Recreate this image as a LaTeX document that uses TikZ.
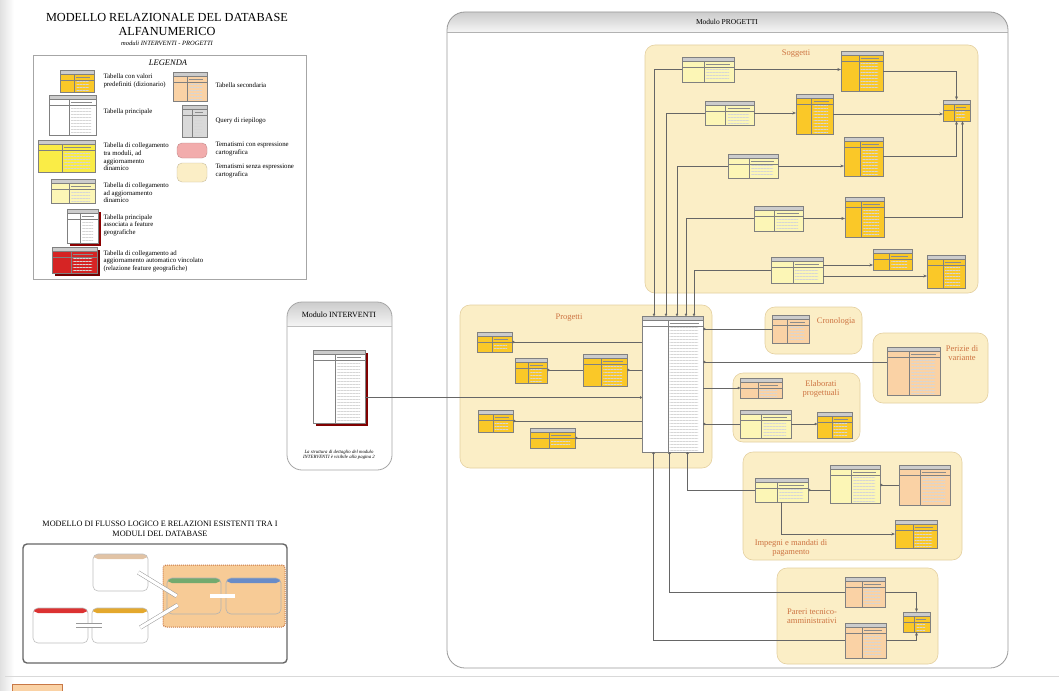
\documentclass[tikz,border=0pt]{standalone}
\usepackage{fontspec}
\setmainfont{Liberation Serif}
\usetikzlibrary{arrows.meta,calc,fit,patterns.meta}
\definecolor{beige}{RGB}{251,238,198}
\definecolor{beigebordo}{RGB}{228,208,160}
\definecolor{oro}{RGB}{250,200,40}
\definecolor{gialloch}{RGB}{252,246,182}
\definecolor{giallo}{RGB}{250,236,70}
\definecolor{salmone}{RGB}{250,210,165}
\definecolor{rosso}{RGB}{214,36,36}
\definecolor{rosa}{RGB}{242,172,172}
\definecolor{etich}{RGB}{205,115,65}
\definecolor{fltan}{RGB}{225,195,165}
\definecolor{flrosso}{RGB}{220,50,50}
\definecolor{flarancio}{RGB}{228,168,45}
\definecolor{flverde}{RGB}{115,170,110}
\definecolor{flblu}{RGB}{105,140,200}
\definecolor{grfill}{RGB}{247,203,150}
\definecolor{grbordo}{RGB}{200,120,70}
\tikzset{>={Stealth[length=3.5pt,width=3pt]}}
\tikzset{
  dbtab/.style={draw=black!50, line width=0.35pt, fill=#1, inner sep=0pt,
    path picture={
      \coordinate (tl) at (path picture bounding box.north west);
      \coordinate (br) at (path picture bounding box.south east);
      \coordinate (cd) at ($(tl)!0.42!(br|-tl)$);
      \fill[black!20] (tl) rectangle ($(br|-tl)+(0,-4pt)$);
      \draw[black!50, line width=0.25pt] ($(tl)+(0,-4pt)$) -- ($(br|-tl)+(0,-4pt)$);
      \draw[black!50, line width=0.25pt] ($(tl)+(0,-10pt)$) -- ($(br|-tl)+(0,-10pt)$);
      \draw[black!50, line width=0.25pt] ($(cd)+(0,-4pt)$) -- (cd|-br);
      \draw[black!45, line width=0.6pt] ($(cd)+(2pt,-7pt)$) -- ($(br|-tl)+(-4pt,-7pt)$);
      \fill[pattern={Lines[distance=3pt,line width=0.25pt]}, pattern color=black!16]
        ($(cd)+(2pt,-11.5pt)$) rectangle ($(br)+(-5pt,1.5pt)$);
    }},
  zona/.style={draw=beigebordo, fill=beige, line width=0.6pt, rounded corners=10pt, inner sep=0pt},
  zonalab/.style={text=etich, font=\fontsize{8.5}{9.5}\selectfont, align=center},
  tank/.style={fill=#1, draw=#1!80!black, line width=0.4pt, rounded corners=5pt, inner sep=0pt},
  leg/.style={anchor=west, align=left, font=\fontsize{6.8}{7.6}\selectfont},
  link/.style={draw=black!60, line width=0.45pt},
  pallino/.style={-{Circle[length=2.4pt]}},
  flowbox/.style={draw=black!25, line width=0.6pt, rounded corners=5pt, inner sep=0pt,
    path picture={\fill[#1] (path picture bounding box.north west) rectangle ($(path picture bounding box.north east)+(0,-5pt)$);}},
  flusso/.style={draw=black!40, double=white, double distance=3.2pt, line width=0.5pt}
}

\begin{document}
\begin{tikzpicture}[x=1pt,y=-1pt]
\useasboundingbox (0,0) rectangle (1059,690);
\fill[white] (0,0) rectangle (1059,690);
\shade[left color=black!12, right color=white] (0,0) rectangle (14,690);

\node[font=\fontsize{12.3}{14}\selectfont] (titolo) at (167,17) {MODELLO RELAZIONALE DEL DATABASE};
\node[font=\fontsize{12.3}{14}\selectfont] (titolo2) at (167,31) {ALFANUMERICO};
\node[font=\fontsize{6.5}{7}\selectfont\itshape] (sottotit) at (167,43) {moduli INTERVENTI - PROGETTI};

\node[draw=black!35, line width=0.5pt, inner sep=0pt, fit={(33,55) (306,279)}] (legenda) {};
\node[font=\fontsize{8.5}{9}\selectfont\itshape] at (168,63) {LEGENDA};
\node[dbtab=oro, fit={(60,70) (94,92)}] (lg1) {};
\node[dbtab=white, fit={(49,95) (96,135)}] (lg2) {};
\node[dbtab=giallo, fit={(38,140) (95,172)}] (lg3) {};
\node[dbtab=gialloch, fit={(51,179) (95,203)}] (lg4) {};
\fill[red!55!black] (70,212) rectangle (101,246);
\node[dbtab=white, fit={(67,209) (98,243)}] (lg5) {};
\fill[red!45!black] (55,250) rectangle (100,276);
\node[dbtab=rosso, fit={(52,247) (97,273)}] (lg6) {};
\node[dbtab=salmone, fit={(173,72) (207,101)}] (lg7) {};
\node[dbtab=black!15, fit={(182,105) (207,137)}] (lg8) {};
\node[tank=rosa, fit={(177,143) (207,158)}] (lg9) {};
\node[tank=beige, fit={(177,163) (207,182)}] (lg10) {};
\node[leg] at (100,81) {Tabella con valori\\predefiniti (dizionario)};
\node[leg] at (100,112) {Tabella principale};
\node[leg] at (100,157) {Tabella di collegamento\\tra moduli, ad\\aggiornamento\\dinamico};
\node[leg] at (100,193) {Tabella di collegamento\\ad aggiornamento\\dinamico};
\node[leg] at (100,225) {Tabella principale\\associata a feature\\geografiche};
\node[leg] at (100,261) {Tabella di collegamento ad\\aggiornamento automatico vincolato\\(relazione feature geografiche)};
\node[leg] at (212,85) {Tabella secondaria};
\node[leg] at (212,121) {Query di riepilogo};
\node[leg] at (212,149) {Tematismi con espressione\\cartografica};
\node[leg] at (212,171) {Tematismi senza espressione\\cartografica};

\begin{scope}
\clip[rounded corners=18pt] (447,12) rectangle (1008,668);
\shade[top color=black!20, bottom color=black!4] (447,12) rectangle (1008,32);
\end{scope}
\node[draw=black!40, line width=0.8pt, rounded corners=18pt, inner sep=0pt, fit={(447,12) (1008,668)}] (modprog) {};
\draw[black!30] (447,32) -- (1008,32);
\node[font=\fontsize{7.5}{8}\selectfont] at (727,22) {Modulo PROGETTI};

\begin{scope}
\clip[rounded corners=15pt] (287,302) rectangle (392,470);
\shade[top color=black!20, bottom color=black!4] (287,302) rectangle (392,326);
\end{scope}
\node[draw=black!35, line width=0.8pt, rounded corners=15pt, inner sep=0pt, fit={(287,302) (392,470)}] (modint) {};
\draw[black!25] (287,326) -- (392,326);
\node[font=\fontsize{8}{8.5}\selectfont] at (339,315) {Modulo INTERVENTI};
\fill[red!50!black] (316,353) rectangle (368,426);
\node[dbtab=white, fit={(313,350) (365,423)}] (int) {};
\node[font=\fontsize{4.8}{5.6}\selectfont\itshape, align=center] at (339,455) {La struttura di dettaglio del modulo\\INTERVENTI è visibile alla pagina 2};

\node[zona, fit={(645,45) (978,293)}] (zsogg) {};
\node[zonalab] at (796,54) {Soggetti};
\node[zona, fit={(460,305) (712,468)}] (zprog) {};
\node[zonalab] at (569,318) {Progetti};
\node[zona, fit={(765,307) (862,354)}] (zcron) {};
\node[zonalab] at (836,321) {Cronologia};
\node[zona, fit={(873,333) (988,403)}] (zper) {};
\node[zonalab] at (962,353) {Perizie di\\variante};
\node[zona, fit={(733,373) (860,442)}] (zelab) {};
\node[zonalab] at (821,389) {Elaborati\\progettuali};
\node[zona, fit={(743,452) (962,560)}] (zimp) {};
\node[zonalab] at (791,548) {Impegni e mandati di\\pagamento};
\node[zona, fit={(777,568) (938,664)}] (zpar) {};
\node[zonalab] at (812,616) {Pareri tecnico-\\amministrativi};

\node[dbtab=gialloch, fit={(682,57) (734,82)}] (ps1) {};
\node[dbtab=oro, fit={(841,51) (883,91)}] (s1) {};
\node[dbtab=gialloch, fit={(705,101) (754,125)}] (ps2) {};
\node[dbtab=oro, fit={(796,94) (833,134)}] (s2) {};
\node[dbtab=oro, fit={(943,100) (970,121)}] (ruoli) {};
\node[dbtab=gialloch, fit={(728,154) (778,178)}] (ps3) {};
\node[dbtab=oro, fit={(844,137) (883,176)}] (s3) {};
\node[dbtab=gialloch, fit={(754,206) (803,231)}] (ps4) {};
\node[dbtab=oro, fit={(845,197) (884,237)}] (s4) {};
\node[dbtab=gialloch, fit={(771,257) (823,283)}] (ps5) {};
\node[dbtab=oro, fit={(873,249) (912,270)}] (s5) {};
\node[dbtab=oro, fit={(927,255) (965,288)}] (s6) {};

\node[dbtab=white, fit={(642,316) (703,452)}] (prog) {};
\node[dbtab=oro, fit={(477,332) (512,352)}] (o1) {};
\node[dbtab=oro, fit={(515,358) (547,383)}] (o2) {};
\node[dbtab=oro, fit={(583,354) (627,386)}] (o3) {};
\node[dbtab=oro, fit={(478,410) (513,432)}] (o4) {};
\node[dbtab=oro, fit={(530,428) (575,448)}] (o5) {};

\node[dbtab=salmone, fit={(772,315) (809,343)}] (c1) {};
\node[dbtab=salmone, fit={(887,347) (940,395)}] (per1) {};
\node[dbtab=salmone, fit={(740,378) (782,398)}] (e1) {};
\node[dbtab=gialloch, fit={(740,410) (791,438)}] (e2) {};
\node[dbtab=oro, fit={(817,412) (852,438)}] (e3) {};
\node[dbtab=gialloch, fit={(755,478) (808,502)}] (pp) {};
\node[dbtab=gialloch, fit={(830,465) (880,503)}] (pm) {};
\node[dbtab=salmone, fit={(899,465) (950,505)}] (im) {};
\node[dbtab=oro, fit={(895,520) (937,548)}] (md) {};
\node[dbtab=salmone, fit={(845,577) (885,607)}] (p1) {};
\node[dbtab=salmone, fit={(845,623) (886,658)}] (p2) {};
\node[dbtab=oro, fit={(903,612) (930,632)}] (p3) {};

\draw[link,pallino] (ps1.west) -| ([xshift=-18.5pt]prog.north);
\draw[link,pallino] (ps2.west) -| ([xshift=-6.5pt]prog.north);
\draw[link,pallino] (ps3.west) -| ([xshift=4.5pt]prog.north);
\draw[link,pallino] (ps4.west) -| ([xshift=13.5pt]prog.north);
\draw[link,pallino] (ps5.west) -| ([xshift=21.5pt]prog.north);
\draw[link,->] (ps1.east) -- (ps1.east -| s1.west);
\draw[link,->] (s1.east) -| (ruoli.north);
\draw[link,->] (ps2.east) -- (ps2.east -| s2.west);
\draw[link,->] (s2.east) -- (s2.east -| ruoli.west);
\draw[link,->] (ps3.east) -- (ps3.east -| s3.west);
\draw[link,->] (s3.east) -| (ruoli.south);
\draw[link,->] (s4.east) -| ([xshift=6pt]ruoli.south);
\draw[link,->] (ps4.east) -- (ps4.east -| s4.west);
\draw[link,->] ([yshift=5pt]ps5.east) -- ([yshift=5pt]ps5.east -| s5.west);
\draw[link,->] ([yshift=-6pt]ps5.east) -- ([yshift=-6pt]ps5.east -| s6.west);

\draw[link,pallino] (prog.west |- o1.east) -- (o1.east);
\draw[link,pallino] (o3.west) -- (o3.west -| o2.east);
\draw[link,pallino] (prog.west |- o3.east) -- (o3.east);
\draw[link,pallino] (prog.west |- o4.east) -- (o4.east);
\draw[link,pallino] (prog.west |- o5.east) -- (o5.east);
\draw[link,pallino] ([yshift=-11pt]int.east) -- ([yshift=-11pt]int.east -| prog.west);

\draw[link,pallino] (c1.west) -- (c1.west -| prog.east);
\draw[link,pallino] ([yshift=9pt]per1.west) -- ([yshift=9pt]per1.west -| prog.east);
\draw[link,pallino] (prog.east |- e1.west) -- (e1.west);
\draw[link,pallino] (e2.west) -- (e2.west -| prog.east);
\draw[link,pallino] (e2.east) -- (e2.east -| e3.west);

\draw[link,pallino] (pp.west) -| ([xshift=15pt]prog.south);
\draw[link,pallino] (p1.west) -| ([xshift=-3pt]prog.south);
\draw[link,pallino] (p2.west) -| ([xshift=-19pt]prog.south);
\draw[link,pallino] (pm.west |- pp.east) -- (pp.east);
\draw[link,pallino] (im.west) -- (im.west -| pm.east);
\draw[link,->] (pp.south) |- (md.west);
\draw[link,->] (p1.east) -| (p3.north);
\draw[link,->] (p2.east) -| (p3.south);

\node[font=\fontsize{8.2}{9.5}\selectfont, align=center] at (160,529) {MODELLO DI FLUSSO LOGICO E RELAZIONI ESISTENTI TRA I\\MODULI DEL DATABASE};
\node[draw=black!60, line width=1.4pt, rounded corners=4pt, inner sep=0pt, fit={(23,544) (287,663)}] (flusso) {};
\node[fill=grfill, draw=grbordo, densely dotted, line width=1pt, rounded corners=3pt, inner sep=0pt, fit={(163,565) (285,627)}] (gruppo) {};
\node[flowbox=fltan, fill=white, fit={(93,554) (148,591)}] (fb1) {};
\node[flowbox=flrosso, fill=white, fit={(33,608) (88,643)}] (fb2) {};
\node[flowbox=flarancio, fill=white, fit={(92,608) (148,643)}] (fb3) {};
\node[flowbox=flverde, draw=white!70!black, fit={(167,578) (221,614)}] (fb4) {};
\node[flowbox=flblu, draw=white!70!black, fit={(226,578) (281,614)}] (fb5) {};
\draw[flusso] ([xshift=-12pt]fb2.east) -- ([xshift=10pt]fb3.west);
\draw[flusso] ([xshift=-10pt]fb1.east) -- ([xshift=10pt]fb4.west);
\draw[flusso] ([xshift=-8pt,yshift=-2pt]fb3.east) -- ([xshift=11pt,yshift=-9pt]fb4.west);
\draw[flusso] ([xshift=-11pt]fb4.east) -- ([xshift=9pt]fb5.west);

\draw[black!15, line width=1pt] (5,676) -- (1059,676);
\fill[salmone, draw=grbordo] (12,684) rectangle (62,694);
\end{tikzpicture}
\end{document}
